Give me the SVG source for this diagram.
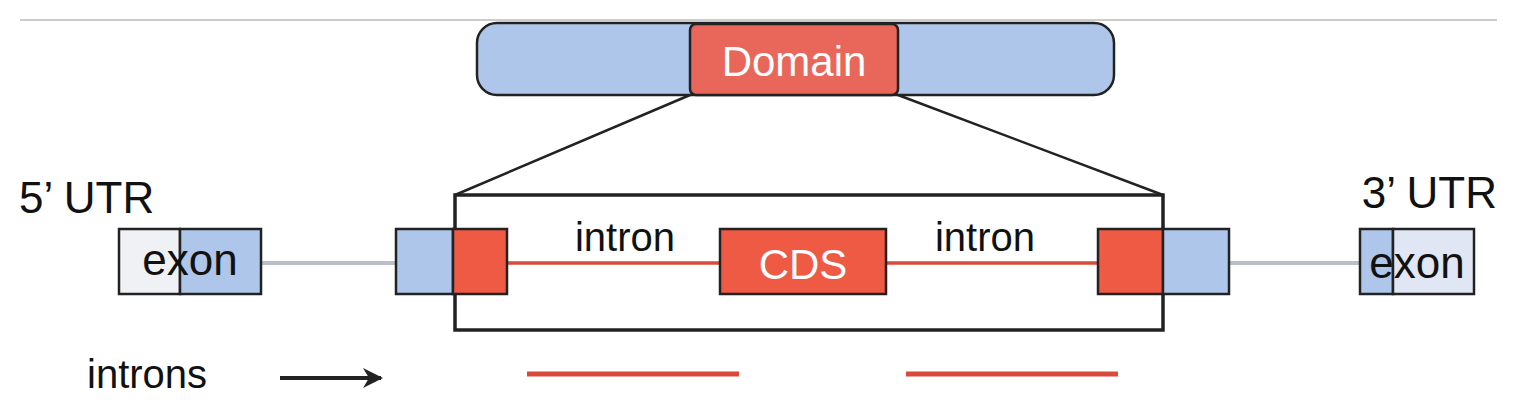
<svg xmlns="http://www.w3.org/2000/svg" width="1518" height="412" viewBox="0 0 1518 412">
<style>
text{font-family:"Liberation Sans",Arial,sans-serif;fill:#111}
.b{stroke:#222;stroke-width:2.5}
.blue{fill:#aec6ea}
.red{fill:#ef5a45}
.w{fill:#fff}
</style>
<defs><marker id="ah" viewBox="0 0 10 10" refX="9" refY="5" markerWidth="5" markerHeight="5" orient="auto" markerUnits="strokeWidth"><path d="M0,0 L10,5 L0,10 L3,5 z" fill="#222"/></marker></defs>
<line x1="20" y1="20" x2="1497" y2="20" stroke="#cccccc" stroke-width="2"/>
<g id="connectors">
<line x1="690" y1="95" x2="455" y2="195" stroke="#222" stroke-width="2.5"/>
<line x1="898" y1="95" x2="1163" y2="195" stroke="#222" stroke-width="2.5"/>
<line x1="261" y1="263" x2="396" y2="263" stroke="#b9bfcb" stroke-width="4"/>
<line x1="1229" y1="263" x2="1360" y2="263" stroke="#b9bfcb" stroke-width="4"/>
<line x1="507" y1="263" x2="720" y2="263" stroke="#d94a3c" stroke-width="3.5"/>
<line x1="886" y1="263" x2="1098" y2="263" stroke="#d94a3c" stroke-width="3.5"/>
<line x1="280" y1="378" x2="381" y2="378" stroke="#222" stroke-width="4" marker-end="url(#ah)"/>
<line x1="527" y1="374" x2="739" y2="374" stroke="#d94a3c" stroke-width="5"/>
<line x1="906" y1="374" x2="1118" y2="374" stroke="#d94a3c" stroke-width="5"/>
</g>
<g id="protein">
<rect x="477" y="23" width="637" height="72" rx="20" class="blue b"/>
<rect x="690" y="24" width="208" height="71" rx="6" fill="#e8675a" class="b"/>
<text x="794" y="76" font-size="42" text-anchor="middle" class="w">Domain</text>
</g>
<g id="zoombox"><rect x="455" y="195" width="708" height="135" fill="none" stroke="#222" stroke-width="3.5"/></g>
<g id="utr5">
<text x="19" y="213" font-size="44">5’ UTR</text>
<rect x="119" y="229" width="61" height="65" fill="#f0f1f5" class="b"/>
<rect x="180" y="229" width="81" height="65" class="blue b"/>
<text x="190" y="275" font-size="44" text-anchor="middle">exon</text>
</g>
<g id="exon2">
<rect x="396" y="229" width="57" height="65" class="blue b"/>
<rect x="453" y="229" width="54" height="65" class="red b"/>
</g>
<text x="625" y="251" font-size="40" text-anchor="middle">intron</text>
<g id="cds">
<rect x="720" y="229" width="166" height="65" class="red b"/>
<text x="803" y="279" font-size="42" text-anchor="middle" class="w">CDS</text>
</g>
<text x="985" y="251" font-size="40" text-anchor="middle">intron</text>
<g id="exon4">
<rect x="1098" y="229" width="65" height="65" class="red b"/>
<rect x="1163" y="229" width="66" height="65" class="blue b"/>
</g>
<g id="utr3">
<text x="1497" y="208" font-size="44" text-anchor="end">3’ UTR</text>
<rect x="1360" y="229" width="33" height="65" class="blue b"/>
<rect x="1393" y="229" width="81" height="65" fill="#e0e6f4" class="b"/>
<text x="1417" y="278" font-size="44" text-anchor="middle">exon</text>
</g>
<text x="87" y="388" font-size="40">introns</text>
</svg>
